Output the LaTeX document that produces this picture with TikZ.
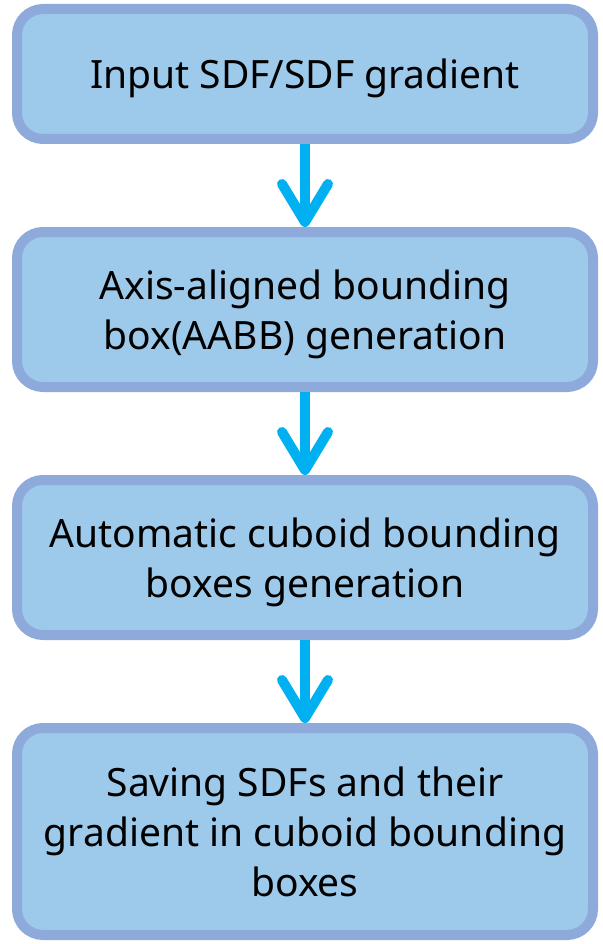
\documentclass[tikz,border=0pt]{standalone}
\usepackage{fontspec}
\setmainfont{Noto Sans}
\usepackage{xcolor}
\usepackage{tikz}
\usetikzlibrary{positioning,arrows.meta}
\definecolor{boxfill}{HTML}{9DC9EA}
\definecolor{boxline}{HTML}{8EAADB}
\definecolor{flow}{HTML}{00B0F0}
\tikzset{
	step label/.style = {
		font=\fontsize{39}{50}\selectfont, align=center, text depth=0pt
	}
}

\begin{document}
\begin{tikzpicture}[
        node distance = 83pt,
        stage/.style = {rectangle, rounded corners=26pt, draw=boxline, fill=boxfill,
                        line width=10pt, minimum width=576pt, step label},
        flowarrow/.style = {draw=flow, line width=10pt,
                        -{Straight Barb[length=38pt,width=46pt,line cap=round,line join=round]}}
    ]
    \useasboundingbox (0,0) rectangle (602pt,-944pt);

    \node[stage, minimum height=130pt] (input) at (305pt,-74pt) {Input SDF/SDF gradient};
    \node[stage, minimum height=155pt, below = of input] (aabb) {Axis-aligned bounding\\box(AABB) generation};
    \node[stage, minimum height=155pt, below = of aabb] (cuboid) {Automatic cuboid bounding\\boxes generation};
    \node[stage, minimum height=207pt, below = of cuboid] (saving) {Saving SDFs and their\\gradient in cuboid bounding\\boxes};

    \draw[flowarrow] (input) -- (aabb);
    \draw[flowarrow] (aabb) -- (cuboid);
    \draw[flowarrow] (cuboid) -- (saving);

\end{tikzpicture}
\end{document}
